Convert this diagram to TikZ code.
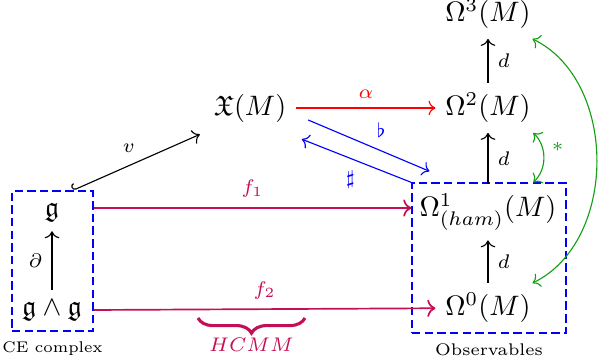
\documentclass[tikz,border=0pt]{standalone}
\usepackage{amsmath}
\usepackage{amssymb}
\usepackage{tikz}
\usetikzlibrary{positioning,arrows.meta,decorations.pathreplacing}
\usepackage{xcolor}
\definecolor{hcmmred}{RGB}{195,15,85}
\definecolor{eqgreen}{RGB}{20,160,20}

\begin{document}
\begin{tikzpicture}[
    grpbox/.style={draw=blue, dash pattern=on 3pt off 1.5pt, inner sep=0pt},
    boxlabel/.style={font=\fontsize{6pt}{7pt}\selectfont},
    lbl/.style={font=\scriptsize},
    fmap/.style={->, hcmmred, semithick},
    flatmap/.style={->, blue},
    eq/.style={<->, eqgreen},
    hcmmbrace/.style={hcmmred, line width=1.1pt, decorate, decoration={brace, mirror, amplitude=0.19cm}}
]
\useasboundingbox (0,0) rectangle (7.55,4.5);

\node (g) at (0.65,1.85) {$\mathfrak{g}$};
\node (gg) at (0.65,0.625) {$\mathfrak{g}\wedge\mathfrak{g}$};
\node (X) at (3.125,3.15) {$\mathfrak{X}(M)$};
\node (om3) at (6.1,4.325) {$\Omega^3(M)$};
\node (om2) at (6.1,3.15) {$\Omega^2(M)$};
\node (om1) at (6.1,1.85) {$\Omega^1_{(ham)}(M)$};
\node (om0) at (6.1,0.65) {$\Omega^0(M)$};

\node[grpbox, minimum width=1.0125cm, minimum height=1.75cm] (ce) at (0.656,1.2375) {};
\node[grpbox, minimum width=1.925cm, minimum height=1.875cm] (obs) at (6.1125,1.275) {};
\node[boxlabel, font=\fontsize{5.5pt}{6.5pt}\selectfont, below=0pt of ce] (celabel) {CE complex};
\node[boxlabel, below=0pt of obs] (obslabel) {Observables};

\draw[->] (gg) -- node[lbl, left] {$\partial$} (g);
\draw[->] (om0) -- node[lbl, right] {$d$} (om1);
\draw[->] (om1) -- node[lbl, right] {$d$} (om2);
\draw[->] (om2) -- node[lbl, right] {$d$} (om3);

\draw[{Hooks[right]}->] ([xshift=-0.26cm]ce.north east) -- node[lbl, above left=0pt and -3pt, pos=0.5] {$v$} ([shift={(-0.05cm,-0.03cm)}]X.south west);
\draw[->, red] (X) -- node[lbl, above] {$\alpha$} (om2);
\draw[flatmap] ([shift={(0.15cm,0.15cm)}]X.south east) -- node[lbl, above right=-1pt] {$\flat$} ([shift={(0.225cm,0.14cm)}]obs.north west);
\draw[flatmap] (obs.north west) -- node[lbl, below left=0pt and -3pt] {$\sharp$} ([shift={(0.07cm,-0.09cm)}]X.south east);

\draw[fmap] ([yshift=0.05cm]ce.east |- g) -- node[lbl, above] {$f_1$} ([yshift=0.05cm]obs.west |- g);
\draw[fmap] (ce.east |- gg) -- node[lbl, above] {$f_2$} (om0);

\coordinate (hcmmL) at (2.475,0.525);
\coordinate (hcmmR) at (3.8125,0.525);
\draw[hcmmbrace] (hcmmL) -- (hcmmR) node[lbl, midway, below=0.12cm] {$HCMM$};

\draw[eq] ([xshift=-0.09cm]om2.south east |- obs.north) to[bend right=46] node[lbl, pos=0.7, right] {$*$} ([xshift=-0.09cm]om2.south east);
\draw[eq] ([xshift=-0.1cm]om0.north east) to[bend right=64] node[lbl, right] {$*$} ([xshift=-0.1cm]om3.south east);

\end{tikzpicture}
\end{document}
